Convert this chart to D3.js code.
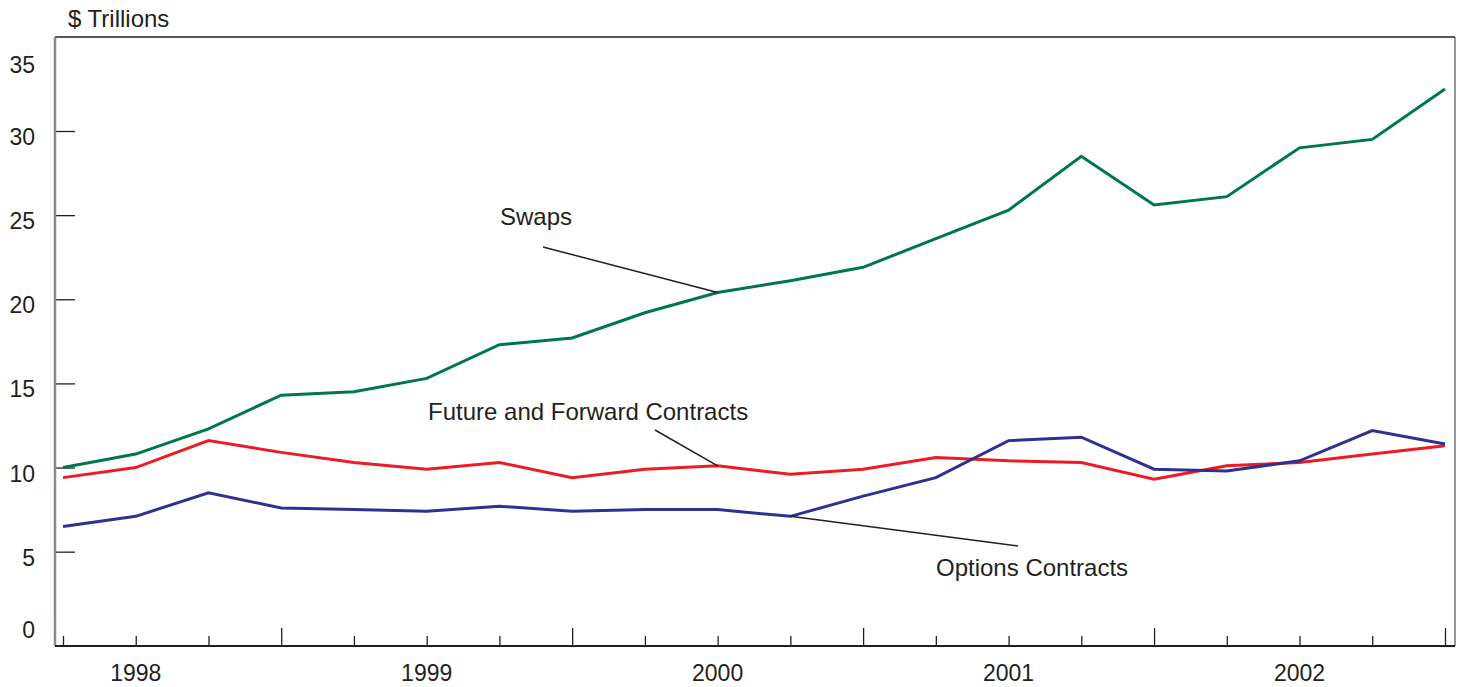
<!DOCTYPE html>
<html>
<head>
<meta charset="utf-8">
<script src="https://cdn.jsdelivr.net/npm/d3@7"></script>
<style>
  html, body { margin: 0; padding: 0; background: #fff; }
  svg { display: block; font-family: "Liberation Sans", Arial, sans-serif; }
</style>
</head>
<body>
<svg id="chart" width="1457" height="687"></svg>
<script>
// ---------- data ----------
const quarters = ["1997Q4","1998Q1","1998Q2","1998Q3","1998Q4","1999Q1","1999Q2","1999Q3","1999Q4",
  "2000Q1","2000Q2","2000Q3","2000Q4","2001Q1","2001Q2","2001Q3","2001Q4","2002Q1","2002Q2","2002Q3"];
const swaps   = [10.0, 10.8, 12.3, 14.3, 14.5, 15.3, 17.3, 17.7, 19.2, 20.4, 21.1, 21.9, 23.6, 25.3, 28.5, 25.6, 26.1, 29.0, 29.5, 32.5];
const futures = [9.4, 10.0, 11.6, 10.9, 10.3, 9.9, 10.3, 9.4, 9.9, 10.1, 9.6, 9.9, 10.6, 10.4, 10.3, 9.3, 10.1, 10.3, 10.8, 11.3];
const options = [6.5, 7.1, 8.5, 7.6, 7.5, 7.4, 7.7, 7.4, 7.5, 7.5, 7.1, 8.3, 9.4, 11.6, 11.8, 9.9, 9.8, 10.4, 12.2, 11.4];
const yTickLabels = [0, 5, 10, 15, 20, 25, 30, 35];
const yTickMarks = [5, 10, 15, 20, 25, 30];
const yearLabels = {"1998Q1": "1998", "1999Q1": "1999", "2000Q1": "2000", "2001Q1": "2001", "2002Q1": "2002"};
const majorTicks = ["1998Q3","1999Q3","2000Q3","2001Q3","2002Q3"];
const seriesNames = ["Swaps", "Future and Forward Contracts", "Options Contracts"];

// ---------- layout ----------
const frame = {left: 55, right: 1455, top: 37, bottom: 646};
const colors = {"Swaps": "#00774a", "Future and Forward Contracts": "#ed1c24", "Options Contracts": "#2e3192"};
const textColor = "#231f20";
const annotations = [
  {name: "Swaps", values: swaps, idx: 9, tx: 500, ty: 225, lx: 543, ly: 247},
  {name: "Future and Forward Contracts", values: futures, idx: 9, tx: 428, ty: 420, lx: 655, ly: 430},
  {name: "Options Contracts", values: options, idx: 10, tx: 936, ty: 576, lx: 1018, ly: 546}
];

const svg = d3.select("#chart");

const x = d3.scalePoint().domain(quarters).range([63, 1445]);
const y = d3.scaleLinear().domain([0, 30]).range([635.8, 131]);

// frame: top and right borders
svg.append("line").attr("x1", frame.left).attr("x2", frame.right).attr("y1", frame.top).attr("y2", frame.top)
  .attr("stroke", "#231f20").attr("stroke-width", 1.5);
svg.append("line").attr("x1", frame.right).attr("x2", frame.right).attr("y1", frame.top).attr("y2", frame.bottom)
  .attr("stroke", "#555").attr("stroke-width", 1.2);

// y tick marks (inside)
const yAxis = d3.axisRight(y).tickValues(yTickMarks).tickSize(20).tickFormat("");
const gy = svg.append("g").attr("transform", `translate(${frame.left},0)`).call(yAxis);
gy.select(".domain").remove();
gy.selectAll(".tick line").attr("stroke", "#231f20").attr("stroke-width", 1.3);

// y labels
svg.append("g").selectAll("text").data(yTickLabels).join("text")
  .attr("x", 35)
  .attr("y", d => Math.max(65, Math.min(630, y(d) + 6)))
  .attr("dy", "0.35em")
  .attr("text-anchor", "end")
  .attr("font-size", 23)
  .attr("fill", textColor)
  .text(d => d);

// left axis line (gray)
svg.append("line").attr("x1", frame.left).attr("x2", frame.left).attr("y1", frame.top).attr("y2", frame.bottom)
  .attr("stroke", "#8a8a8a").attr("stroke-width", 2.5);

// x axis
const xAxis = d3.axisTop(x).tickValues(quarters).tickSizeInner(0).tickSizeOuter(0).tickFormat("");
const gx = svg.append("g").attr("transform", `translate(0,${frame.bottom})`).call(xAxis);
gx.select(".domain").remove();
gx.selectAll(".tick line")
  .attr("y2", d => majorTicks.includes(d) ? -18 : -10)
  .attr("stroke", "#231f20").attr("stroke-width", 1.3);
svg.append("line").attr("x1", frame.left).attr("x2", frame.right).attr("y1", frame.bottom).attr("y2", frame.bottom)
  .attr("stroke", "#231f20").attr("stroke-width", 2);

svg.append("g").selectAll("text").data(quarters.filter(q => yearLabels[q])).join("text")
  .attr("x", d => x(d))
  .attr("y", 681)
  .attr("text-anchor", "middle")
  .attr("font-size", 23)
  .attr("fill", textColor)
  .text(d => yearLabels[d]);

// unit label
svg.append("text").attr("x", 68).attr("y", 27).attr("font-size", 24).attr("fill", textColor).text("$ Trillions");

// lines
const line = d3.line().x((d, i) => x(quarters[i])).y(d => y(d));
const seriesData = [
  {name: "Swaps", values: swaps},
  {name: "Future and Forward Contracts", values: futures},
  {name: "Options Contracts", values: options}
];
svg.append("g").selectAll("path").data(seriesData).join("path")
  .attr("d", d => line(d.values))
  .attr("fill", "none")
  .attr("stroke", d => colors[d.name])
  .attr("stroke-width", 3)
  .attr("stroke-linejoin", "miter");

// annotations
const ga = svg.append("g");
annotations.forEach(a => {
  ga.append("line")
    .attr("x1", a.lx).attr("y1", a.ly)
    .attr("x2", x(quarters[a.idx])).attr("y2", y(a.values[a.idx]))
    .attr("stroke", "#231f20").attr("stroke-width", 1.5);
  ga.append("text").attr("x", a.tx).attr("y", a.ty)
    .attr("font-size", 24).attr("fill", textColor).text(a.name);
});
</script>
</body>
</html>
